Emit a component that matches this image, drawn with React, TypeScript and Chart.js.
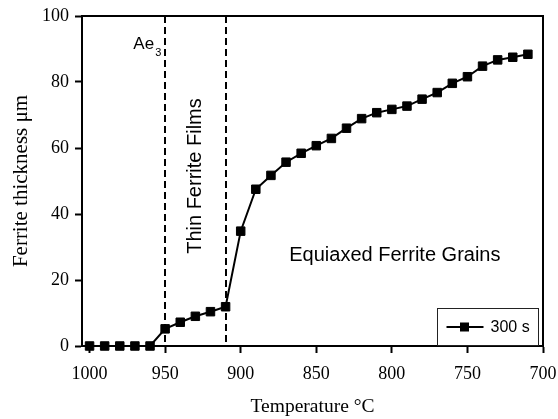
import React, { useEffect, useRef } from "react";
import { Chart, registerables } from "chart.js";

Chart.register(...registerables);

const temperatures = [
  1000, 990, 980, 970, 960, 950, 940, 930, 920, 910, 900, 890, 880, 870, 860,
  850, 840, 830, 820, 810, 800, 790, 780, 770, 760, 750, 740, 730, 720, 710,
];
const thickness = [
  0, 0, 0, 0, 0, 5.2, 7.2, 9.0, 10.4, 11.9, 34.8, 47.5, 51.7, 55.7, 58.4,
  60.7, 62.9, 66.0, 68.9, 70.7, 71.7, 72.7, 74.8, 76.8, 79.6, 81.6, 84.8, 86.7, 87.5, 88.4,
];
const xTicks = [1000, 950, 900, 850, 800, 750, 700];
const yTicks = [0, 20, 40, 60, 80, 100];
const seriesLabel = "300 s";
const xTitle = "Temperature °C";
const yTitle = "Ferrite thickness μm";
const boundaryTemps = [950, 910];
const ae3Label = ["Ae", "3"];
const filmsLabel = "Thin Ferrite Films";
const grainsLabel = "Equiaxed Ferrite Grains";

const SERIF = "'Liberation Serif', 'Times New Roman', serif";
const SANS = "'Liberation Sans', Arial, sans-serif";

const overlayPlugin = {
  id: "overlay",
  beforeDatasetsDraw(chart: any) {
    const { ctx, chartArea: ca, scales } = chart;
    ctx.save();
    ctx.strokeStyle = "#000";
    ctx.lineWidth = 2;
    ctx.setLineDash([7, 4]);
    boundaryTemps.forEach((t) => {
      const x = Math.round(scales.x.getPixelForValue(t));
      ctx.beginPath();
      ctx.moveTo(x, ca.top);
      ctx.lineTo(x, ca.bottom);
      ctx.stroke();
    });
    ctx.restore();
  },
  afterDatasetsDraw(chart: any) {
    const { ctx, chartArea: ca, scales } = chart;
    const xs = scales.x;
    const ys = scales.y;
    ctx.save();
    ctx.strokeStyle = "#000";
    ctx.lineWidth = 2;
    ctx.beginPath();
    ctx.moveTo(ca.left, ca.top);
    ctx.lineTo(ca.right, ca.top);
    ctx.lineTo(ca.right, ca.bottom);
    ctx.stroke();

    ctx.fillStyle = "#000";
    const aeX = xs.getPixelForValue(boundaryTemps[0]) - 11;
    const aeY = ys.getPixelForValue(90);
    ctx.font = `17px ${SANS}`;
    ctx.textAlign = "right";
    ctx.textBaseline = "alphabetic";
    ctx.fillText(ae3Label[0], aeX, aeY);
    ctx.font = `11px ${SANS}`;
    ctx.textAlign = "left";
    ctx.fillText(ae3Label[1], aeX + 1, aeY + 7);

    ctx.save();
    ctx.translate(xs.getPixelForValue(930), ys.getPixelForValue(51.5));
    ctx.rotate(-Math.PI / 2);
    ctx.font = `20px ${SANS}`;
    ctx.textAlign = "center";
    ctx.textBaseline = "middle";
    ctx.fillText(filmsLabel, 0, 0);
    ctx.restore();

    ctx.font = `20px ${SANS}`;
    ctx.textAlign = "center";
    ctx.textBaseline = "middle";
    ctx.fillText(grainsLabel, xs.getPixelForValue(798), ys.getPixelForValue(27.5));

    const bw = 101;
    const bh = 37;
    const bx = Math.round(ca.right - 5 - bw) + 0.5;
    const by = Math.round(ca.bottom - 1 - bh) + 0.5;
    ctx.lineWidth = 1;
    ctx.strokeStyle = "#222";
    ctx.strokeRect(bx, by, bw, bh);
    const ly = by + bh / 2;
    ctx.lineWidth = 2;
    ctx.strokeStyle = "#000";
    ctx.beginPath();
    ctx.moveTo(bx + 9, ly);
    ctx.lineTo(bx + 46, ly);
    ctx.stroke();
    ctx.fillRect(bx + 27 - 4.5, ly - 4.5, 9, 9);
    ctx.font = `16px ${SANS}`;
    ctx.textAlign = "left";
    ctx.textBaseline = "middle";
    ctx.fillText(seriesLabel, bx + 53, ly + 1);
    ctx.restore();
  },
};

export default function App() {
  const canvasRef = useRef<HTMLCanvasElement | null>(null);

  useEffect(() => {
    if (!canvasRef.current) return;
    const chart = new Chart(canvasRef.current, {
      type: "line",
      data: {
        datasets: [
          {
            label: seriesLabel,
            data: temperatures.map((t, i) => ({ x: t, y: thickness[i] })),
            borderColor: "#000",
            backgroundColor: "#000",
            borderWidth: 2,
            pointStyle: "rect",
            pointRadius: 6,
            pointBorderWidth: 1,
            pointBackgroundColor: "#000",
            pointBorderColor: "#000",
            tension: 0,
            clip: false,
          } as any,
        ],
      },
      options: {
        responsive: false,
        animation: false,
        devicePixelRatio: 1,
        layout: { padding: { top: 16, right: 15, left: 0, bottom: 0 } },
        plugins: { legend: { display: false }, tooltip: { enabled: false } },
        scales: {
          x: {
            type: "linear",
            reverse: true,
            min: 700,
            max: 1005,
            afterFit(s: any) {
              s.height = 73;
              s.paddingLeft = 0;
              s.paddingRight = 0;
            },
            afterBuildTicks(s: any) {
              s.ticks = xTicks.map((v) => ({ value: v }));
            },
            ticks: {
              font: { family: SERIF, size: 18 },
              color: "#000",
              padding: 10,
              maxRotation: 0,
              autoSkip: false,
              callback: (v: any) => String(v),
            },
            grid: {
              drawOnChartArea: false,
              drawTicks: true,
              tickLength: 7,
              tickWidth: 2,
              tickColor: "#000",
            },
            border: { display: true, color: "#000", width: 2 },
            title: {
              display: true,
              text: xTitle,
              font: { family: SERIF, size: 19.5 },
              color: "#000",
              padding: { top: 0, bottom: 0 },
            },
          },
          y: {
            type: "linear",
            min: 0,
            max: 100,
            afterFit(s: any) {
              s.width = 82;
              s.paddingTop = 0;
              s.paddingBottom = 0;
            },
            afterBuildTicks(s: any) {
              s.ticks = yTicks.map((v) => ({ value: v }));
            },
            ticks: {
              font: { family: SERIF, size: 18 },
              color: "#000",
              padding: 6,
              autoSkip: false,
              callback: (v: any) => String(v),
            },
            grid: {
              drawOnChartArea: false,
              drawTicks: true,
              tickLength: 7,
              tickWidth: 2,
              tickColor: "#000",
            },
            border: { display: true, color: "#000", width: 2 },
            title: {
              display: true,
              text: yTitle,
              font: { family: SERIF, size: 21 },
              color: "#000",
              padding: { top: 9, bottom: 0 },
            },
          },
        },
      } as any,
      plugins: [overlayPlugin],
    });
    return () => chart.destroy();
  }, []);

  return (
    <div style={{ position: "absolute", left: 0, top: 0, width: 558, height: 419, background: "#fff" }}>
      <canvas ref={canvasRef} width={558} height={419} />
    </div>
  );
}
